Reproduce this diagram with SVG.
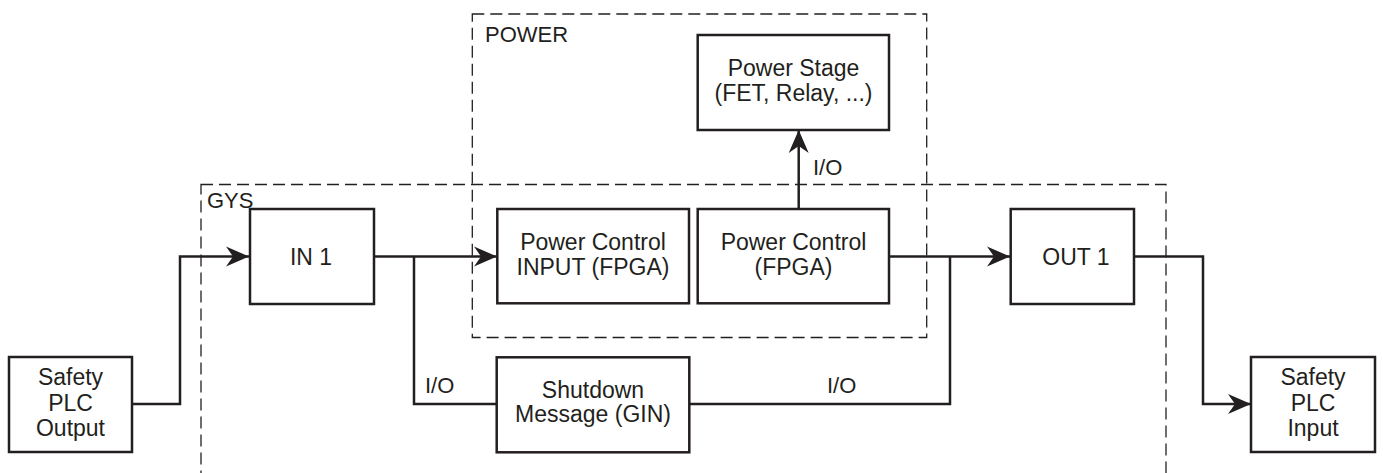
<svg xmlns="http://www.w3.org/2000/svg" width="1383" height="473" viewBox="0 0 1383 473">
<style>
.box{fill:#fff;stroke:#231f20;stroke-width:2.5}
.grp{fill:none;stroke:#231f20;stroke-width:1.3;stroke-dasharray:12 6}
.con{fill:none;stroke:#231f20;stroke-width:2.5}
.t{font-family:"Liberation Sans",Arial,sans-serif;font-size:23px;fill:#231f20;text-anchor:middle}
.l{font-family:"Liberation Sans",Arial,sans-serif;font-size:22px;fill:#231f20}
</style>
<defs>
<marker id="arr" markerUnits="userSpaceOnUse" markerWidth="24" markerHeight="22" refX="23" refY="10" orient="auto" viewBox="0 0 24 20">
<path d="M0,0 L23,10 L0,20 L7,10 Z" fill="#231f20"/>
</marker>
</defs>
<g id="group-gys">
<rect class="grp" x="201" y="184.5" width="965" height="300"/>
<text class="l" x="207" y="208">GYS</text>
</g>
<g id="group-power">
<rect class="grp" x="472.3" y="14" width="454.4" height="323.5"/>
<text class="l" x="485" y="42">POWER</text>
</g>
<g id="connectors">
<path class="con" d="M132,404 H180 V256.5 H249" marker-end="url(#arr)"/>
<path class="con" d="M374,256.5 H497" marker-end="url(#arr)"/>
<path class="con" d="M414,256.5 V404 H497"/>
<path class="con" d="M798.7,209 V130" marker-end="url(#arr)"/>
<path class="con" d="M889,256.5 H1010" marker-end="url(#arr)"/>
<path class="con" d="M950,256.5 V404 H689"/>
<path class="con" d="M1134,256.5 H1203 V404 H1251" marker-end="url(#arr)"/>
<text class="l" x="425" y="393">I/O</text>
<text class="l" x="813" y="175">I/O</text>
<text class="l" x="827" y="393">I/O</text>
</g>
<g id="node-plc-output">
<rect class="box" x="9" y="357" width="123" height="95"/>
<text class="t" x="70.5" y="385">Safety</text>
<text class="t" x="70.5" y="410.5">PLC</text>
<text class="t" x="70.5" y="436">Output</text>
</g>
<g id="node-in1">
<rect class="box" x="250" y="209" width="124" height="95"/>
<text class="t" x="311" y="265">IN 1</text>
</g>
<g id="node-pc-input">
<rect class="box" x="497.3" y="209" width="191.7" height="94.3"/>
<text class="t" x="593" y="250">Power Control</text>
<text class="t" x="593" y="275">INPUT (FPGA)</text>
</g>
<g id="node-pc-fpga">
<rect class="box" x="697.7" y="209" width="191.3" height="94.3"/>
<text class="t" x="793.5" y="250">Power Control</text>
<text class="t" x="793.5" y="275">(FPGA)</text>
</g>
<g id="node-power-stage">
<rect class="box" x="697.7" y="35" width="191.3" height="95"/>
<text class="t" x="793.5" y="76">Power Stage</text>
<text class="t" x="793.5" y="101">(FET, Relay, ...)</text>
</g>
<g id="node-shutdown">
<rect class="box" x="496.7" y="357.3" width="192.6" height="95"/>
<text class="t" x="593" y="398">Shutdown</text>
<text class="t" x="593" y="422">Message (GIN)</text>
</g>
<g id="node-out1">
<rect class="box" x="1010.7" y="209" width="123.3" height="95"/>
<text class="t" x="1076" y="265">OUT 1</text>
</g>
<g id="node-plc-input">
<rect class="box" x="1251" y="357" width="124" height="95"/>
<text class="t" x="1313" y="385">Safety</text>
<text class="t" x="1313" y="410.5">PLC</text>
<text class="t" x="1313" y="436">Input</text>
</g>
</svg>
